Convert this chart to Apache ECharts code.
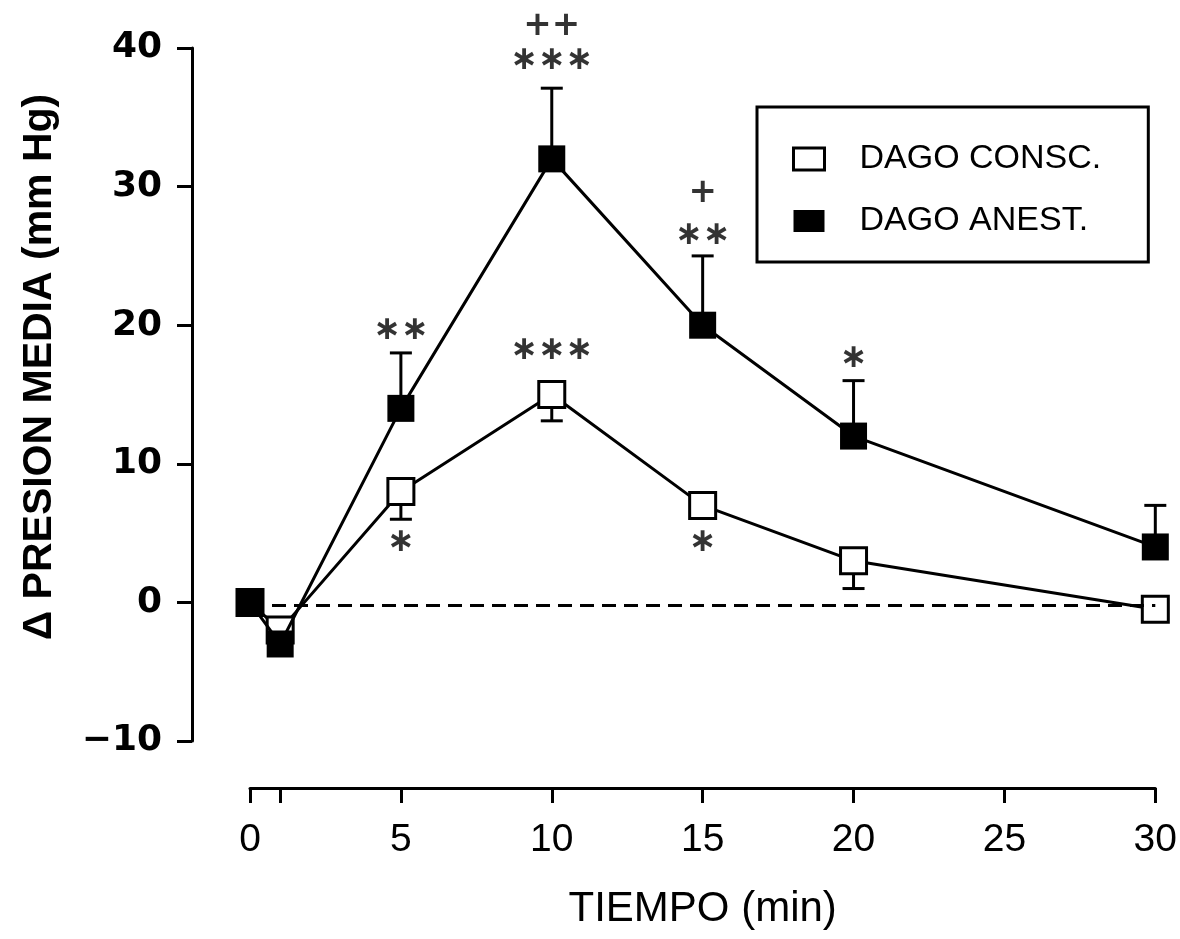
<!DOCTYPE html>
<html>
<head>
    <meta http-equiv="Content-Type" content="text/html; charset=utf-8" />
    <title>Presion media</title>
    <script src="https://cdn.jsdelivr.net/npm/echarts@6/dist/echarts.min.js"></script>
    <style>
        html, body { margin: 0; padding: 0; background: #fff; }
    </style>
</head>
<body>
    <div id="main" style="width: 1180px;height:939px;"></div>
<script type="text/javascript">
    // datos
    var tiempos = [0, 1, 5, 10, 15, 20, 30];
    var consc = [0, -2, 8, 15, 7, 3, -0.5];
    var conscInf = [null, null, 6, 13.1, null, 1, null];
    var anest = [0, -3, 14, 32, 20, 12, 4];
    var anestSup = [null, null, 18, 37.1, 25, 16, 7];
    var lineaBase = -0.2;

    var ticksX = [0, 1, 5, 10, 15, 20, 25, 30];
    var etiquetasX = [0, 5, 10, 15, 20, 25, 30];

    var asteriscos = [[5, 19.6, '∗∗'], [10, 39.1, '∗∗∗'], [10, 18.2, '∗∗∗'], [15, 26.5, '∗∗'],
        [20, 17.6, '∗'], [5, 4.3, '∗'], [15, 4.3, '∗']];
    var cruces = [[10, 41.6, '++'], [15, 29.5, '+']];

    function pares(ys) {
        return tiempos.map(function (t, i) { return [t, ys[i]]; });
    }
    function barras(medias, extremos) {
        var out = [];
        tiempos.forEach(function (t, i) {
            if (extremos[i] !== null) out.push([t, medias[i], extremos[i]]);
        });
        return out;
    }
    function dibujaBarra(params, api) {
        var p0 = api.coord([api.value(0), api.value(1)]);
        var p1 = api.coord([api.value(0), api.value(2)]);
        var w = 11;
        return {
            type: 'group',
            children: [
                { type: 'line', shape: { x1: p0[0], y1: p0[1], x2: p1[0], y2: p1[1] }, style: { stroke: '#000', lineWidth: 3 } },
                { type: 'line', shape: { x1: p1[0] - w, y1: p1[1], x2: p1[0] + w, y2: p1[1] }, style: { stroke: '#000', lineWidth: 3 } }
            ]
        };
    }

    var myChart = echarts.init(document.getElementById('main'));
    var option = {
        animation: false,
        backgroundColor: '#fff',
        grid: { left: 250, right: 23, top: 48, bottom: 198 },
        legend: {
            orient: 'vertical',
            left: 757,
            top: 107,
            padding: [35, 47, 24, 35],
            itemGap: 28,
            itemWidth: 31,
            itemHeight: 22,
            borderColor: '#000',
            borderWidth: 3,
            selectedMode: false,
            textStyle: {
                fontFamily: 'Liberation Sans',
                fontSize: 34,
                lineHeight: 34,
                color: '#000',
                padding: [0, 0, 0, 30]
            },
            data: [
                { name: 'DAGO CONSC.', icon: 'rect', itemStyle: { color: '#fff', borderColor: '#000', borderWidth: 3 } },
                { name: 'DAGO ANEST.', icon: 'rect', itemStyle: { color: '#000', borderWidth: 0 } }
            ]
        },
        graphic: [{
            type: 'text',
            x: 40,
            y: 367,
            rotation: Math.PI / 2,
            style: {
                text: 'Δ PRESION MEDIA (mm Hg)',
                fontFamily: 'Liberation Sans',
                fontWeight: 'bold',
                fontSize: 41,
                fill: '#000',
                align: 'center',
                verticalAlign: 'middle'
            }
        }],
        xAxis: {
            type: 'value',
            min: 0,
            max: 30,
            offset: 47,
            name: 'TIEMPO (min)',
            nameLocation: 'middle',
            nameGap: 100,
            nameTextStyle: { fontFamily: 'Liberation Sans', fontSize: 42, color: '#000' },
            splitLine: { show: false },
            axisLine: { onZero: false, lineStyle: { color: '#000', width: 3 } },
            axisTick: { show: true, length: 15, customValues: ticksX, lineStyle: { color: '#000', width: 3 } },
            axisLabel: {
                customValues: etiquetasX,
                margin: 33,
                fontFamily: 'Liberation Sans',
                fontSize: 39,
                color: '#000'
            }
        },
        yAxis: {
            type: 'value',
            min: -10,
            max: 40,
            interval: 10,
            offset: 58,
            splitLine: { show: false },
            axisLine: { show: true, onZero: false, lineStyle: { color: '#000', width: 3 } },
            axisTick: { show: true, length: 15, lineStyle: { color: '#000', width: 3 } },
            axisLabel: {
                margin: 30,
                fontFamily: 'DejaVu Sans',
                fontWeight: 'bold',
                fontSize: 36,
                color: '#000',
                formatter: function (v) { return String(v).replace('-', '−'); }
            }
        },
        series: [
            {
                name: 'error consc',
                type: 'custom',
                clip: false,
                silent: true,
                z: 1,
                renderItem: dibujaBarra,
                encode: { x: 0, y: [1, 2] },
                data: barras(consc, conscInf)
            },
            {
                name: 'error anest',
                type: 'custom',
                clip: false,
                silent: true,
                z: 1,
                renderItem: dibujaBarra,
                encode: { x: 0, y: [1, 2] },
                data: barras(anest, anestSup)
            },
            {
                name: 'DAGO CONSC.',
                type: 'line',
                clip: false,
                z: 3,
                symbol: 'rect',
                symbolSize: 26,
                itemStyle: { color: '#fff', borderColor: '#000', borderWidth: 3 },
                lineStyle: { color: '#000', width: 3 },
                emphasis: { disabled: true },
                data: pares(consc),
                markLine: {
                    silent: true,
                    symbol: 'none',
                    label: { show: false },
                    lineStyle: { color: '#000', width: 3, type: [14, 8] },
                    data: [{ yAxis: lineaBase }]
                }
            },
            {
                name: 'DAGO ANEST.',
                type: 'line',
                clip: false,
                z: 4,
                symbol: 'rect',
                symbolSize: 27,
                itemStyle: { color: '#000' },
                lineStyle: { color: '#000', width: 3 },
                emphasis: { disabled: true },
                data: pares(anest)
            },
            {
                name: 'asteriscos',
                type: 'scatter',
                clip: false,
                silent: true,
                symbolSize: 0,
                label: {
                    show: true,
                    position: 'inside',
                    fontFamily: 'DejaVu Sans',
                    fontWeight: 'bold',
                    fontSize: 33,
                    color: '#000',
                    formatter: function (p) { return p.data[2]; }
                },
                data: asteriscos
            },
            {
                name: 'cruces',
                type: 'scatter',
                clip: false,
                silent: true,
                symbolSize: 0,
                label: {
                    show: true,
                    position: 'inside',
                    fontFamily: 'DejaVu Sans',
                    fontWeight: 'bold',
                    fontSize: 34,
                    color: '#000',
                    formatter: function (p) { return p.data[2]; }
                },
                data: cruces
            }
        ]
    };
    myChart.setOption(option);
</script>
</body>
</html>
